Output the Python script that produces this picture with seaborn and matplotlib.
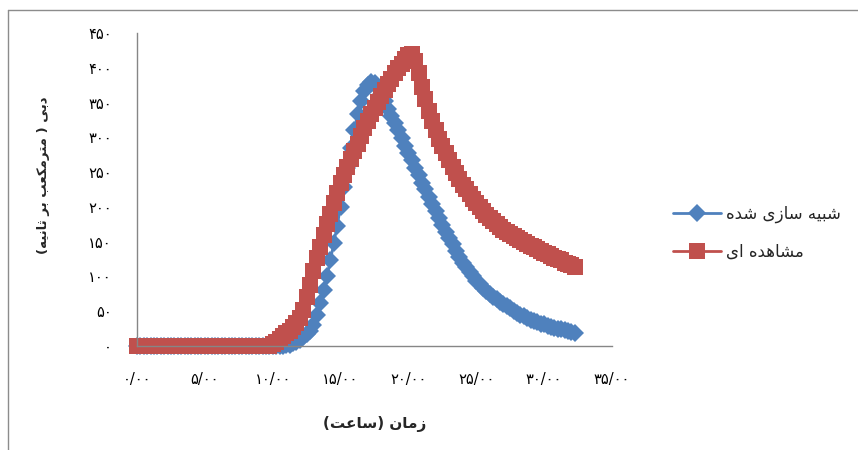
import numpy as np
import matplotlib
matplotlib.use("Agg")
import matplotlib.pyplot as plt
import seaborn as sns
from matplotlib.lines import Line2D

# ---------------- data ----------------
hours = np.round(np.arange(0, 32.26, 0.25), 2)

simulated = [
    0, 0, 0, 0, 0, 0, 0, 0, 0, 0,
    0, 0, 0, 0, 0, 0, 0, 0, 0, 0,
    0, 0, 0, 0, 0, 0, 0, 0, 0, 0,
    0, 0, 0, 0, 0, 0, 0, 0, 0, 0,
    0, 0, 0, 0,
    1, 2, 4, 6, 9, 13, 17, 22, 30, 44,
    62, 80, 100, 123, 148, 173, 200, 228, 256, 284,
    310, 333, 352, 366, 375, 380, 378, 371, 362, 352,
    341, 331, 320, 310, 299, 288, 278, 267, 256, 246,
    235, 225, 214, 204, 194, 184, 174, 164, 155, 146,
    137, 128, 120, 113, 106, 100, 94, 89, 84, 79,
    75, 71, 67, 63, 60, 57, 54, 51, 48, 45,
    43, 40, 38, 36, 34, 32, 31, 29, 28, 26,
    25, 24, 23, 22, 20, 19,
]

observed = [
    0, 0, 0, 0, 0, 0, 0, 0, 0, 0,
    0, 0, 0, 0, 0, 0, 0, 0, 0, 0,
    0, 0, 0, 0, 0, 0, 0, 0, 0, 0,
    0, 0, 0, 0, 0, 0, 0, 0, 0, 0,
    3, 6, 10, 14, 18, 22, 27, 33, 40, 52,
    70, 88, 108, 126, 143, 159, 175, 190, 205, 220,
    234, 246, 258, 269, 280, 291, 302, 313, 323, 333,
    342, 351, 360, 368, 376, 384, 392, 399, 406, 413,
    418, 420,
    410, 392, 373, 355, 338, 323, 310, 298, 287, 277,
    267, 258, 249, 240, 232, 225, 218, 212, 206, 200,
    194, 189, 184, 179, 175, 171, 167, 164, 161, 158,
    155, 152, 149, 147, 144, 142, 139, 137, 134, 132,
    130, 127, 125, 123, 120, 118, 116, 113,
]

y_ticks = [0, 50, 100, 150, 200, 250, 300, 350, 400, 450]
x_ticks = [0, 5, 10, 15, 20, 25, 30, 35]

label_sim = "شبیه سازی شده"
label_obs = "مشاهده ای"
x_title = "زمان (ساعت)"
y_title = "دبی ( مترمکعب بر ثانیه)"

# ---------------- Persian shaping helpers ----------------
FORMS = {
    'ا': ('\uFE8D', '\uFE8E', None, None),
    'ب': ('\uFE8F', '\uFE90', '\uFE91', '\uFE92'),
    'ت': ('\uFE95', '\uFE96', '\uFE97', '\uFE98'),
    'ث': ('\uFE99', '\uFE9A', '\uFE9B', '\uFE9C'),
    'د': ('\uFEA9', '\uFEAA', None, None),
    'ر': ('\uFEAD', '\uFEAE', None, None),
    'ز': ('\uFEAF', '\uFEB0', None, None),
    'س': ('\uFEB1', '\uFEB2', '\uFEB3', '\uFEB4'),
    'ش': ('\uFEB5', '\uFEB6', '\uFEB7', '\uFEB8'),
    'ع': ('\uFEC9', '\uFECA', '\uFECB', '\uFECC'),
    'ک': ('\uFED9', '\uFEDA', '\uFEDB', '\uFEDC'),
    'م': ('\uFEE1', '\uFEE2', '\uFEE3', '\uFEE4'),
    'ن': ('\uFEE5', '\uFEE6', '\uFEE7', '\uFEE8'),
    'ه': ('\uFEE9', '\uFEEA', '\uFEEB', '\uFEEC'),
    'ی': ('\uFEEF', '\uFEF0', '\uFEF3', '\uFEF4'),
}


def shape(text):
    out = []
    n = len(text)
    for i, c in enumerate(text):
        if c not in FORMS:
            out.append(c)
            continue
        prev = text[i - 1] if i > 0 else None
        nxt = text[i + 1] if i + 1 < n else None
        iso, fin, ini, med = FORMS[c]
        jp = prev in FORMS and FORMS[prev][2] is not None
        jn = nxt in FORMS and ini is not None
        if jp and jn:
            out.append(med)
        elif jp:
            out.append(fin)
        elif jn:
            out.append(ini)
        else:
            out.append(iso)
    mirror = {'(': ')', ')': '('}
    return ''.join(mirror.get(ch, ch) for ch in reversed(out))


FA_DIGITS = str.maketrans('0123456789', '۰۱۲۳۴۵۶۷۸۹')


def fa(s):
    return s.translate(FA_DIGITS)


# ---------------- plot ----------------
sns.set_style("white")
plt.rcParams['font.family'] = ['DejaVu Sans']

BLUE = '#4F81BD'
RED = '#C0504D'
GRAY = '#868686'
MS_BLUE = 8.8
MS_RED = 11

fig = plt.figure(figsize=(8.58, 4.50), dpi=100)
ax = fig.add_axes([137 / 858, 1 - 346 / 450, (612 - 137) / 858, (346 - 33) / 450])

sns.lineplot(x=hours, y=simulated, ax=ax, color=BLUE, marker='D', markersize=MS_BLUE,
             markeredgewidth=0, linewidth=2,
             clip_on=False, legend=False, sort=False)
sns.lineplot(x=hours, y=observed, ax=ax, color=RED, marker='s', markersize=MS_RED,
             markeredgewidth=0, linewidth=2,
             clip_on=False, legend=False, sort=False)

ax.set_xlim(0, 35)
ax.set_ylim(0, 450)
ax.set_xticks(x_ticks)
ax.set_yticks(y_ticks)
ax.set_xticklabels([fa(f"{v}/00") for v in x_ticks], fontsize=10.5)
ax.set_yticklabels([fa(str(v)) for v in y_ticks], fontsize=10.5)

for s in ['top', 'right']:
    ax.spines[s].set_visible(False)
for s in ['left', 'bottom']:
    ax.spines[s].set_color(GRAY)
    ax.spines[s].set_linewidth(1)

ax.tick_params(axis='both', direction='out', length=6, width=1, color=GRAY,
               labelcolor='black')
ax.tick_params(axis='y', pad=12)
ax.tick_params(axis='x', pad=13)
ax.grid(False)

ax.set_xlabel(shape(x_title), fontsize=11, fontweight='bold')
ax.set_ylabel(shape(y_title), fontsize=9.5, fontweight='bold')
ax.xaxis.set_label_coords(0.5, -0.225)
ax.yaxis.set_label_coords(-0.183, 0.546)

handles = [
    Line2D([], [], color=BLUE, marker='D', markersize=MS_BLUE, markeredgewidth=0, linewidth=2),
    Line2D([], [], color=RED, marker='s', markersize=MS_RED, markeredgewidth=0, linewidth=2),
]
fig.legend(handles, [shape(label_sim), shape(label_obs)], loc='center left',
           bbox_to_anchor=(673 / 858, 1 - 233 / 450), frameon=False,
           fontsize=12, handlelength=2.9, handletextpad=0.3, labelspacing=1.2,
           borderpad=0, borderaxespad=0)

# chart border (left and top edges visible in the reference)
fig.add_artist(Line2D([8 / 858, 8 / 858], [0, 1 - 10 / 450], transform=fig.transFigure,
                      color='#8c8c8c', linewidth=1))
fig.add_artist(Line2D([8 / 858, 1], [1 - 10 / 450, 1 - 10 / 450], transform=fig.transFigure,
                      color='#8c8c8c', linewidth=1))

fig.savefig("out.png", dpi=100)
